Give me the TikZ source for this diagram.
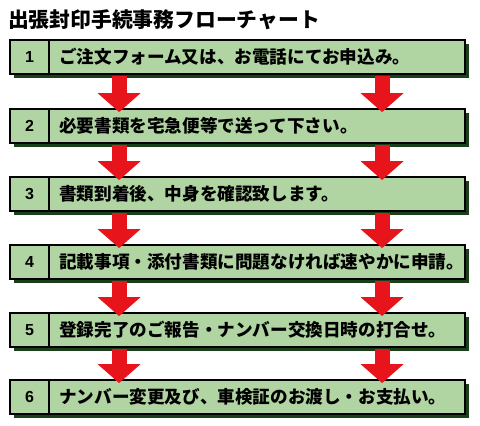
\documentclass[tikz,border=0pt]{standalone}
\usepackage{fontspec}
\newfontfamily\cjk{Noto Sans CJK JP}
\newfontfamily\numfont{Liberation Sans}
\usetikzlibrary{arrows.meta,shadows,calc}
\definecolor{boxgreen}{HTML}{B0D4A2}
\definecolor{shadegreen}{HTML}{1A3F1A}
\definecolor{arrowred}{HTML}{E8141C}
\begin{document}
\begin{tikzpicture}[x=1pt,y=1pt,
  stepbox/.style={draw=black, line width=1.8pt, fill=boxgreen, minimum width=455pt, minimum height=34pt, inner sep=0pt,
    drop shadow={shadow xshift=3.5pt, shadow yshift=-4pt, fill=shadegreen, opacity=1}},
  numcell/.style={draw=black, line width=1.8pt, minimum width=39pt, minimum height=34pt, inner sep=0pt,
    font=\fontsize{16}{16}\numfont\bfseries},
  steptext/.style={anchor=west, inner sep=0pt, font=\fontsize{17.6}{17.6}\cjk\bfseries},
  flow/.style={draw=arrowred, line width=15pt, -{Triangle[width=42pt,length=19pt,fill=arrowred]}}]
\useasboundingbox (0,0) rectangle (480,426);
\node[anchor=west, inner sep=0pt, font=\fontsize{20.8}{20.8}\cjk\bfseries] (title) at (8,406) {出張封印手続事務フローチャート};
% boxes
\node[stepbox] (b1) at (237.5,369) {};
\node[numcell, anchor=west] (n1) at (b1.west) {1};
\node[steptext] (t1) at ($(b1.west)+(50,0)$) {ご注文フォーム又は、お電話にてお申込み。};
\node[stepbox] (b2) at (237.5,300) {};
\node[numcell, anchor=west] (n2) at (b2.west) {2};
\node[steptext] (t2) at ($(b2.west)+(50,0)$) {必要書類を宅急便等で送って下さい。};
\node[stepbox] (b3) at (237.5,232) {};
\node[numcell, anchor=west] (n3) at (b3.west) {3};
\node[steptext] (t3) at ($(b3.west)+(50,0)$) {書類到着後、中身を確認致します。};
\node[stepbox] (b4) at (237.5,164) {};
\node[numcell, anchor=west] (n4) at (b4.west) {4};
\node[steptext] (t4) at ($(b4.west)+(50,0)$) {記載事項・添付書類に問題なければ速やかに申請。};
\node[stepbox] (b5) at (237.5,96) {};
\node[numcell, anchor=west] (n5) at (b5.west) {5};
\node[steptext] (t5) at ($(b5.west)+(50,0)$) {登録完了のご報告・ナンバー交換日時の打合せ。};
\node[stepbox] (b6) at (237.5,29) {};
\node[numcell, anchor=west] (n6) at (b6.west) {6};
\node[steptext] (t6) at ($(b6.west)+(50,0)$) {ナンバー変更及び、車検証のお渡し・お支払い。};
% arrows
\foreach \a/\b in {1/2,2/3,3/4,4/5,5/6}{
  \draw[flow] ($(b\a.south west)+(110,-1)$) -- ($(b\b.north west)+(110,-4)$);
  \draw[flow] ($(b\a.south west)+(373,-1)$) -- ($(b\b.north west)+(373,-4)$);
}
\end{tikzpicture}
\end{document}
